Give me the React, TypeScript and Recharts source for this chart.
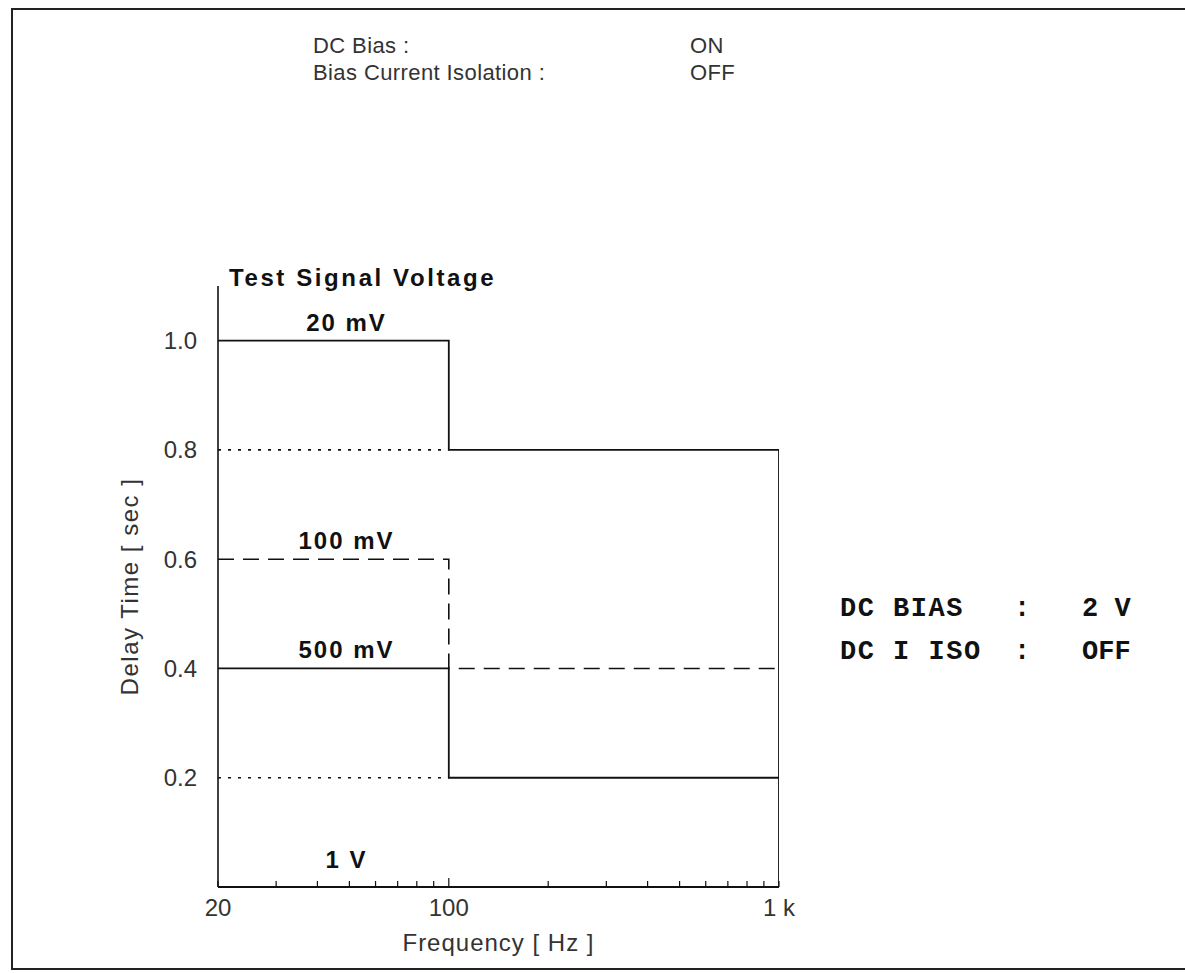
import { LineChart, Line, XAxis, YAxis, ReferenceDot, Label } from "recharts";

// x axis: frequency [Hz], log scale
const FREQ_TICKS = [20, 30, 40, 50, 60, 70, 80, 90, 100, 200, 300, 400, 500, 600, 700, 800, 900, 1000];
const FREQ_LABELS: Record<number, string> = { 20: "20", 100: "100", 1000: "1 k" };
// y axis: delay time [sec]
const DELAY_TICKS = [0.2, 0.4, 0.6, 0.8, 1.0];

// delay time vs frequency per test signal level (step traces)
const SIG_20MV = [
  { f: 20, t: 1.0 },
  { f: 100, t: 1.0 },
  { f: 100, t: 0.8 },
  { f: 1000, t: 0.8 },
  { f: 1000, t: 0 },
];
const SIG_100MV = [
  { f: 20, t: 0.6 },
  { f: 100, t: 0.6 },
  { f: 100, t: 0.4 },
  { f: 1000, t: 0.4 },
];
const SIG_500MV = [
  { f: 20, t: 0.4 },
  { f: 100, t: 0.4 },
  { f: 100, t: 0.2 },
  { f: 1000, t: 0.2 },
];
const SIG_1V = [
  { f: 20, t: 0.2 },
  { f: 100, t: 0.2 },
];
const GUIDE_08 = [
  { f: 20, t: 0.8 },
  { f: 100, t: 0.8 },
];

const SIGNAL_LABELS = [
  { text: "20 mV", t: 1.0 },
  { text: "100 mV", t: 0.6 },
  { text: "500 mV", t: 0.4 },
  { text: "1 V", t: 0 },
];
const LABEL_FREQ = 49;

const SANS = "'Liberation Sans', Arial, Helvetica, sans-serif";
const MONO = "'Liberation Mono', 'DejaVu Sans Mono', monospace";
const INK = "#111";
const GREY = "#333";

const FreqTick = (props: any) => {
  const { x, y, payload } = props;
  const label = FREQ_LABELS[payload.value];
  const tall = payload.value === 100;
  return (
    <g>
      <line x1={x} x2={x} y1={y} y2={y - (tall ? 9 : 6)} stroke={INK} strokeWidth={1.2} />
      {label && (
        <text
          x={x}
          y={y + 23}
          textAnchor="middle"
          dominantBaseline="middle"
          fontSize={24}
          fontFamily={SANS}
          fill={GREY}
        >
          {label}
        </text>
      )}
    </g>
  );
};

const YTitle = (props: any) => {
  const { x, y, height } = props.viewBox;
  const cx = x + 14;
  const cy = y + height / 2;
  return (
    <text
      x={cx}
      y={cy}
      transform={`rotate(-90, ${cx}, ${cy})`}
      textAnchor="middle"
      dominantBaseline="middle"
      fontSize={24}
      letterSpacing={1.5}
      fontFamily={SANS}
      fill={GREY}
    >
      Delay Time [ sec ]
    </text>
  );
};

const XTitle = (props: any) => {
  const { x, y, width } = props.viewBox;
  return (
    <text
      x={x + width / 2}
      y={y + 58}
      textAnchor="middle"
      dominantBaseline="middle"
      fontSize={24}
      letterSpacing={1}
      fontFamily={SANS}
      fill={GREY}
    >
      Frequency [ Hz ]
    </text>
  );
};

export default function App() {
  const lineProps = {
    dataKey: "t",
    stroke: INK,
    dot: false,
    activeDot: false,
    isAnimationActive: false,
    legendType: "none" as const,
    type: "linear" as const,
  };

  const topText = { position: "absolute" as const, top: 32, fontFamily: SANS, fontSize: 22, letterSpacing: 0.4, color: GREY, lineHeight: "27px" };
  const monoText = { position: "absolute" as const, top: 588, fontFamily: MONO, fontWeight: 700, fontSize: 27, color: INK, lineHeight: "43px" };

  return (
    <div style={{ position: "absolute", left: 0, top: 0, width: 1185, height: 973, background: "#fff" }}>
      {/* page frame */}
      <div
        style={{
          position: "absolute",
          left: 11,
          top: 8,
          width: 1174,
          height: 962,
          borderTop: "2px solid #222",
          borderLeft: "2px solid #222",
          borderBottom: "2px solid #222",
          boxSizing: "border-box",
        }}
      />

      <div style={{ ...topText, left: 313 }}>
        <div>DC Bias :</div>
        <div>Bias Current Isolation :</div>
      </div>
      <div style={{ ...topText, left: 690 }}>
        <div>ON</div>
        <div>OFF</div>
      </div>

      <div
        style={{
          position: "absolute",
          left: 229,
          top: 264,
          fontFamily: SANS,
          fontWeight: 700,
          fontSize: 24,
          letterSpacing: 2.6,
          color: INK,
        }}
      >
        Test Signal Voltage
      </div>

      <div style={{ ...monoText, left: 840, letterSpacing: 1.5 }}>
        <div>DC BIAS</div>
        <div>DC I ISO</div>
      </div>
      <div style={{ ...monoText, left: 1014 }}>
        <div>:</div>
        <div>:</div>
      </div>
      <div style={{ ...monoText, left: 1082 }}>
        <div>2 V</div>
        <div>OFF</div>
      </div>

      <div style={{ position: "absolute", left: 0, top: 0 }}>
        <LineChart width={1185} height={973} margin={{ top: 286, right: 406, bottom: 16, left: 118 }}>
          <XAxis
            dataKey="f"
            type="number"
            scale="log"
            domain={[20, 1000]}
            allowDataOverflow
            ticks={FREQ_TICKS}
            interval={0}
            tick={<FreqTick />}
            tickLine={false}
            tickSize={0}
            tickMargin={0}
            height={70}
            axisLine={{ stroke: INK, strokeWidth: 2 }}
          >
            <Label content={<XTitle />} />
          </XAxis>
          <YAxis
            type="number"
            domain={[0, 1.1]}
            ticks={DELAY_TICKS}
            interval={0}
            tickFormatter={(v: number) => v.toFixed(1)}
            tickLine={false}
            tickSize={0}
            tickMargin={21}
            width={100}
            tick={{ fontSize: 24, fill: GREY, fontFamily: SANS }}
            axisLine={{ stroke: INK, strokeWidth: 1.6 }}
          >
            <Label content={<YTitle />} />
          </YAxis>

          <Line {...lineProps} data={GUIDE_08} strokeWidth={1.6} strokeDasharray="3 7" />
          <Line {...lineProps} data={SIG_1V} strokeWidth={1.6} strokeDasharray="3 7" />
          <Line {...lineProps} data={SIG_20MV} strokeWidth={1.8} />
          <Line {...lineProps} data={SIG_100MV} strokeWidth={1.6} strokeDasharray="16 9" />
          <Line {...lineProps} data={SIG_500MV} strokeWidth={1.8} />

          {SIGNAL_LABELS.map((l) => (
            <ReferenceDot
              key={l.text}
              x={LABEL_FREQ}
              y={l.t}
              r={0}
              fill="none"
              stroke="none"
              ifOverflow="visible"
              label={{
                value: l.text,
                position: "top",
                offset: l.t === 0 ? 19 : 10,
                style: { fontSize: 24, fontWeight: 700, letterSpacing: 2, fontFamily: SANS, fill: INK },
              }}
            />
          ))}
        </LineChart>
      </div>
    </div>
  );
}
